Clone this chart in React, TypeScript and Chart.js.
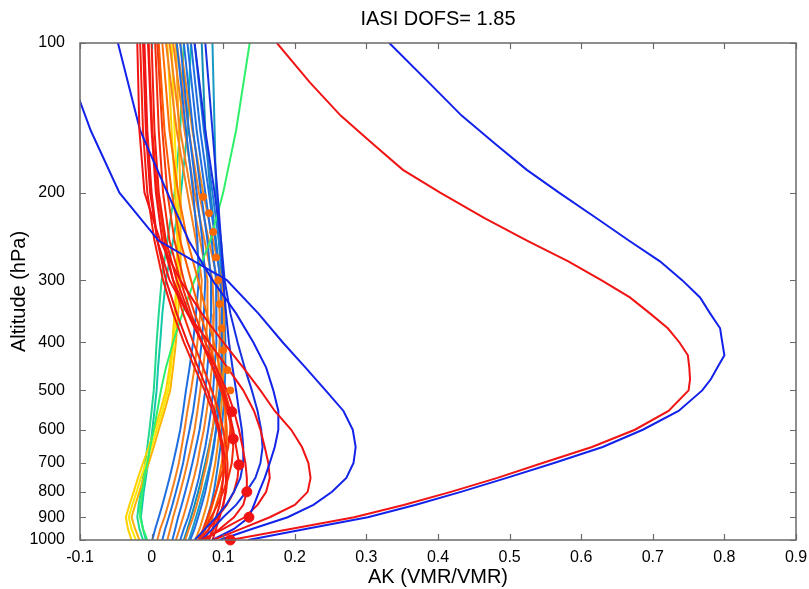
import React, { useEffect, useRef } from 'react';
import { Chart, registerables } from 'chart.js';

Chart.register(...registerables);

const TITLE = 'IASI DOFS= 1.85';
const X_LABEL = 'AK (VMR/VMR)';
const Y_LABEL = 'Altitude (hPa)';

const PRESSURE = [100, 150, 200, 250, 300, 350, 400, 450, 500, 550, 600, 650, 700, 750, 800, 850, 900, 950, 1000];
const PRESSURE_FINE = [100, 120, 140, 160, 180, 200, 225, 250, 275, 300, 325, 350, 375, 400, 425, 450, 475, 500, 550, 600, 650, 700, 750, 800, 850, 900, 950, 1000];
const X_TICKS = [-0.1, 0, 0.1, 0.2, 0.3, 0.4, 0.5, 0.6, 0.7, 0.8, 0.9];
const Y_TICKS = [100, 200, 300, 400, 500, 600, 700, 800, 900, 1000];

// two dominant kernels, one value per PRESSURE_FINE level
const AK_BIG_BLUE = [0.332, 0.387, 0.433, 0.481, 0.524, 0.569, 0.621, 0.667, 0.71, 0.741, 0.766, 0.78, 0.794, 0.797, 0.8, 0.79, 0.781, 0.769, 0.736, 0.686, 0.63, 0.562, 0.496, 0.432, 0.368, 0.302, 0.215, 0.135];
const AK_BIG_RED = [0.175, 0.221, 0.264, 0.31, 0.351, 0.403, 0.465, 0.525, 0.582, 0.628, 0.668, 0.696, 0.721, 0.737, 0.749, 0.751, 0.752, 0.75, 0.722, 0.675, 0.615, 0.546, 0.483, 0.418, 0.352, 0.283, 0.194, 0.11];

// other averaging-kernel rows, one value per PRESSURE level (100 -> 1000 hPa)
const AK_BLUE_1 = [-0.13, -0.085, -0.045, 0.01, 0.105, 0.149, 0.183, 0.215, 0.243, 0.268, 0.281, 0.285, 0.282, 0.272, 0.252, 0.226, 0.19, 0.14, 0.095];
const AK_BLUE_2 = [-0.047, -0.016, 0.022, 0.052, 0.085, 0.118, 0.142, 0.16, 0.17, 0.177, 0.177, 0.172, 0.165, 0.158, 0.15, 0.143, 0.136, 0.115, 0.085];
const AK_BLUE_3 = [0.06, 0.075, 0.088, 0.097, 0.102, 0.11, 0.12, 0.13, 0.14, 0.148, 0.153, 0.155, 0.152, 0.145, 0.132, 0.118, 0.1, 0.085, 0.07];
const AK_BLUE_4 = [0.075, 0.085, 0.092, 0.097, 0.1, 0.104, 0.108, 0.113, 0.118, 0.122, 0.126, 0.128, 0.128, 0.124, 0.115, 0.104, 0.09, 0.075, 0.06];
const AK_RED_2 = [-0.02, -0.017, -0.01, 0.012, 0.04, 0.07, 0.1, 0.128, 0.152, 0.172, 0.195, 0.21, 0.219, 0.222, 0.218, 0.2, 0.165, 0.125, 0.086];
const AK_RED_3 = [-0.01, -0.006, 0.0, 0.008, 0.025, 0.05, 0.08, 0.106, 0.128, 0.143, 0.152, 0.158, 0.163, 0.165, 0.16, 0.148, 0.13, 0.1, 0.07];
const AK_RED_4 = [-0.005, 0.0, 0.006, 0.015, 0.03, 0.05, 0.07, 0.09, 0.105, 0.115, 0.122, 0.127, 0.131, 0.133, 0.133, 0.128, 0.115, 0.095, 0.075];
const AK_RED_5 = [0.0, 0.004, 0.01, 0.02, 0.035, 0.052, 0.07, 0.086, 0.1, 0.108, 0.114, 0.118, 0.122, 0.12, 0.115, 0.105, 0.092, 0.08, 0.068];
const AK_RED_6 = [0.005, 0.01, 0.016, 0.025, 0.04, 0.055, 0.07, 0.085, 0.097, 0.106, 0.112, 0.114, 0.112, 0.107, 0.1, 0.092, 0.083, 0.075, 0.065];
const AK_RED_7 = [0.008, 0.015, 0.022, 0.032, 0.045, 0.06, 0.075, 0.09, 0.102, 0.11, 0.11, 0.107, 0.102, 0.096, 0.09, 0.084, 0.078, 0.072, 0.065];
const AK_RED_8 = [-0.012, -0.008, -0.002, 0.008, 0.02, 0.035, 0.05, 0.065, 0.078, 0.088, 0.095, 0.1, 0.103, 0.104, 0.103, 0.1, 0.095, 0.09, 0.085];
const AK_RED_9 = [-0.016, -0.012, -0.006, 0.004, 0.016, 0.03, 0.045, 0.06, 0.074, 0.085, 0.093, 0.098, 0.1, 0.1, 0.098, 0.095, 0.09, 0.085, 0.08];
const AK_RED_10 = [-0.004, 0.001, 0.008, 0.018, 0.03, 0.044, 0.058, 0.072, 0.084, 0.094, 0.1, 0.104, 0.106, 0.106, 0.104, 0.1, 0.094, 0.087, 0.08];
const AK_ORANGE_RED_1 = [0.01, 0.018, 0.028, 0.04, 0.055, 0.068, 0.08, 0.09, 0.098, 0.103, 0.105, 0.105, 0.103, 0.1, 0.096, 0.09, 0.085, 0.08, 0.075];
const AK_ORANGE_RED_2 = [0.015, 0.025, 0.037, 0.05, 0.065, 0.077, 0.087, 0.095, 0.1, 0.103, 0.103, 0.101, 0.098, 0.094, 0.09, 0.085, 0.08, 0.075, 0.07];
const AK_GREEN_LONE = [0.137, 0.118, 0.1, 0.082, 0.06, 0.043, 0.03, 0.02, 0.013, 0.008, 0.003, -0.002, -0.006, -0.01, -0.013, -0.015, -0.016, -0.012, -0.006];
const AK_MID_1 = [0.035, 0.048, 0.058, 0.064, 0.066, 0.062, 0.058, 0.053, 0.048, 0.044, 0.04, 0.035, 0.03, 0.025, 0.02, 0.015, 0.01, 0.005, 0.001];
const AK_MID_2 = [0.02, 0.035, 0.05, 0.062, 0.07, 0.068, 0.064, 0.06, 0.055, 0.05, 0.046, 0.042, 0.038, 0.033, 0.028, 0.023, 0.018, 0.012, 0.008];
const AK_MID_3 = [0.04, 0.052, 0.063, 0.071, 0.075, 0.073, 0.07, 0.066, 0.062, 0.058, 0.053, 0.048, 0.044, 0.039, 0.034, 0.029, 0.024, 0.019, 0.015];
const AK_MID_4 = [0.025, 0.04, 0.055, 0.068, 0.078, 0.078, 0.076, 0.072, 0.068, 0.064, 0.06, 0.055, 0.05, 0.045, 0.04, 0.035, 0.03, 0.026, 0.022];
const AK_MID_5 = [0.045, 0.058, 0.069, 0.078, 0.083, 0.083, 0.081, 0.078, 0.075, 0.071, 0.067, 0.062, 0.057, 0.052, 0.047, 0.042, 0.037, 0.033, 0.029];
const AK_MID_6 = [0.03, 0.046, 0.06, 0.074, 0.085, 0.087, 0.086, 0.084, 0.081, 0.077, 0.073, 0.068, 0.064, 0.059, 0.054, 0.049, 0.044, 0.039, 0.034];
const AK_MID_7 = [0.05, 0.063, 0.075, 0.084, 0.09, 0.091, 0.09, 0.088, 0.086, 0.083, 0.079, 0.075, 0.07, 0.066, 0.061, 0.056, 0.051, 0.045, 0.04];
const AK_MID_8 = [0.035, 0.052, 0.066, 0.08, 0.092, 0.095, 0.095, 0.093, 0.091, 0.088, 0.085, 0.081, 0.077, 0.072, 0.068, 0.063, 0.058, 0.052, 0.047];
const AK_MID_9 = [0.055, 0.068, 0.08, 0.089, 0.096, 0.098, 0.098, 0.097, 0.095, 0.093, 0.09, 0.087, 0.083, 0.079, 0.075, 0.07, 0.065, 0.06, 0.054];
const AK_MID_10 = [0.04, 0.057, 0.072, 0.086, 0.098, 0.101, 0.101, 0.1, 0.099, 0.097, 0.095, 0.092, 0.089, 0.085, 0.081, 0.077, 0.072, 0.067, 0.061];
const AK_MID_11 = [0.06, 0.073, 0.085, 0.094, 0.1, 0.102, 0.103, 0.103, 0.102, 0.1, 0.098, 0.096, 0.093, 0.09, 0.087, 0.083, 0.078, 0.073, 0.068];
const AK_TEAL_1 = [0.07, 0.075, 0.082, 0.09, 0.096, 0.1, 0.1, 0.098, 0.095, 0.09, 0.085, 0.08, 0.075, 0.07, 0.065, 0.06, 0.055, 0.05, 0.045];
const AK_TEAL_2 = [0.085, 0.088, 0.09, 0.094, 0.098, 0.1, 0.1, 0.099, 0.097, 0.094, 0.09, 0.086, 0.082, 0.077, 0.072, 0.067, 0.062, 0.057, 0.052];
const AK_YELLOW_1 = [0.022, 0.028, 0.033, 0.036, 0.035, 0.032, 0.029, 0.025, 0.02, 0.012, 0.004, -0.004, -0.012, -0.019, -0.025, -0.031, -0.036, -0.033, -0.028];
const AK_YELLOW_2 = [0.028, 0.032, 0.036, 0.038, 0.037, 0.034, 0.031, 0.027, 0.023, 0.015, 0.007, 0.0, -0.008, -0.015, -0.021, -0.027, -0.032, -0.028, -0.022];
const AK_YELLOW_3 = [0.034, 0.038, 0.04, 0.041, 0.04, 0.037, 0.034, 0.03, 0.026, 0.018, 0.01, 0.003, -0.004, -0.011, -0.017, -0.023, -0.028, -0.023, -0.017];
const AK_GREEN_1 = [0.045, 0.04, 0.032, 0.022, 0.014, 0.01, 0.007, 0.005, 0.003, 0.0, -0.003, -0.006, -0.009, -0.012, -0.015, -0.018, -0.02, -0.017, -0.012];
const AK_GREEN_2 = [0.055, 0.05, 0.041, 0.03, 0.02, 0.015, 0.012, 0.009, 0.007, 0.004, 0.001, -0.002, -0.005, -0.008, -0.011, -0.013, -0.015, -0.012, -0.008];

// diagonal markers
const DIAG_LOW_AK = [0.11, 0.136, 0.133, 0.122, 0.114, 0.112];
const DIAG_LOW_P = [1000, 900, 800, 706, 626, 552];
const DIAG_HIGH_AK = [0.11, 0.106, 0.1, 0.098, 0.095, 0.093, 0.09, 0.086, 0.08, 0.072];
const DIAG_HIGH_P = [500, 455, 415, 375, 335, 300, 270, 240, 220, 204];

// drawing order: first entry on top
const LINES: [number[], number[], string][] = [
  [AK_BIG_BLUE, PRESSURE_FINE, '#1222ea'],
  [AK_BIG_RED, PRESSURE_FINE, '#f01414'],
  [AK_BLUE_1, PRESSURE, '#1222ea'],
  [AK_RED_2, PRESSURE, '#f01414'],
  [AK_BLUE_2, PRESSURE, '#1222ea'],
  [AK_RED_3, PRESSURE, '#f01414'],
  [AK_BLUE_3, PRESSURE, '#1630e0'],
  [AK_RED_4, PRESSURE, '#f01414'],
  [AK_BLUE_4, PRESSURE, '#1630e0'],
  [AK_RED_5, PRESSURE, '#f21a10'],
  [AK_RED_6, PRESSURE, '#f42a0c'],
  [AK_RED_7, PRESSURE, '#f63a08'],
  [AK_RED_8, PRESSURE, '#f01414'],
  [AK_RED_9, PRESSURE, '#f41e10'],
  [AK_RED_10, PRESSURE, '#f8300a'],
  [AK_ORANGE_RED_1, PRESSURE, '#ff5a00'],
  [AK_ORANGE_RED_2, PRESSURE, '#ff7000'],
  [AK_GREEN_LONE, PRESSURE, '#2ef06a'],
  [AK_MID_1, PRESSURE, '#1f6ee0'],
  [AK_MID_2, PRESSURE, '#f5801e'],
  [AK_MID_3, PRESSURE, '#1f6ee0'],
  [AK_MID_4, PRESSURE, '#f5801e'],
  [AK_MID_5, PRESSURE, '#1f6ee0'],
  [AK_MID_6, PRESSURE, '#f5801e'],
  [AK_MID_7, PRESSURE, '#1f6ee0'],
  [AK_MID_8, PRESSURE, '#f5801e'],
  [AK_MID_9, PRESSURE, '#1f6ee0'],
  [AK_MID_10, PRESSURE, '#f98a10'],
  [AK_MID_11, PRESSURE, '#1f78d8'],
  [AK_TEAL_1, PRESSURE, '#118db5'],
  [AK_TEAL_2, PRESSURE, '#1899c4'],
  [AK_YELLOW_1, PRESSURE, '#ffd000'],
  [AK_YELLOW_2, PRESSURE, '#ffe800'],
  [AK_YELLOW_3, PRESSURE, '#ffb400'],
  [AK_GREEN_1, PRESSURE, '#20d890'],
  [AK_GREEN_2, PRESSURE, '#12c8a8'],
];

const FONT = "'Liberation Sans', Arial, sans-serif";

const frame = {
  id: 'frame',
  afterDraw(chart: any) {
    const { ctx, chartArea: a, scales } = chart;
    const x = scales.x;
    const y = scales.y;
    ctx.save();
    ctx.strokeStyle = '#6a6a6a';
    ctx.lineWidth = 1.5;
    ctx.strokeRect(a.left, a.top, a.right - a.left, a.bottom - a.top);
    ctx.lineWidth = 1.2;
    ctx.beginPath();
    const len = 6;
    X_TICKS.forEach((v) => {
      const px = Math.round(x.getPixelForValue(v)) + 0.5;
      ctx.moveTo(px, a.bottom);
      ctx.lineTo(px, a.bottom - len);
      ctx.moveTo(px, a.top);
      ctx.lineTo(px, a.top + len);
    });
    Y_TICKS.forEach((v) => {
      const py = Math.round(y.getPixelForValue(v)) + 0.5;
      ctx.moveTo(a.left, py);
      ctx.lineTo(a.left + len, py);
      ctx.moveTo(a.right, py);
      ctx.lineTo(a.right - len, py);
    });
    ctx.stroke();
    ctx.fillStyle = '#000';
    ctx.font = `20px ${FONT}`;
    ctx.textAlign = 'center';
    ctx.textBaseline = 'middle';
    ctx.fillText(TITLE, (a.left + a.right) / 2, 19);
    ctx.restore();
  },
};

export default function App() {
  const ref = useRef<HTMLCanvasElement | null>(null);

  useEffect(() => {
    if (!ref.current) return;
    const lineSets = LINES.map(([vals, pres, color]) => ({
      type: 'scatter' as const,
      data: vals.map((v, i) => ({ x: v, y: pres[i] })),
      showLine: true,
      borderColor: color,
      backgroundColor: color,
      borderWidth: 2,
      pointRadius: 0,
      tension: 0,
    }));
    const dotsLow = {
      type: 'scatter' as const,
      data: DIAG_LOW_AK.map((v, i) => ({ x: v, y: DIAG_LOW_P[i] })),
      showLine: false,
      pointRadius: 5,
      pointBackgroundColor: '#f01414',
      pointBorderColor: '#f01414',
      clip: false as any,
    };
    const dotsHigh = {
      type: 'scatter' as const,
      data: DIAG_HIGH_AK.map((v, i) => ({ x: v, y: DIAG_HIGH_P[i] })),
      showLine: false,
      pointRadius: 3.5,
      pointBackgroundColor: '#ff6a00',
      pointBorderColor: '#ff6a00',
    };
    const chart = new Chart(ref.current, {
      type: 'scatter',
      data: { datasets: [dotsLow, dotsHigh, ...lineSets] as any },
      options: {
        animation: false,
        responsive: false,
        devicePixelRatio: 1,
        layout: { padding: { left: 0, right: 13, top: 43, bottom: 0 } },
        plugins: { legend: { display: false }, tooltip: { enabled: false }, title: { display: false } },
        scales: {
          x: {
            type: 'linear',
            min: -0.1,
            max: 0.9,
            afterBuildTicks: (s: any) => {
              s.ticks = X_TICKS.map((v) => ({ value: v }));
            },
            afterFit: (s: any) => {
              s.height = 49;
            },
            grid: { display: false },
            border: { display: false },
            ticks: {
              color: '#000',
              padding: 0,
              font: { family: FONT, size: 16 },
              callback: (v: any) => String(Number(Number(v).toFixed(1))),
            },
            title: {
              display: true,
              text: X_LABEL,
              color: '#000',
              font: { family: FONT, size: 20 },
              padding: { top: 0, bottom: 0 },
            },
          },
          y: {
            type: 'logarithmic',
            reverse: true,
            min: 100,
            max: 1000,
            afterBuildTicks: (s: any) => {
              s.ticks = Y_TICKS.map((v) => ({ value: v }));
            },
            afterFit: (s: any) => {
              s.width = 80;
            },
            grid: { display: false },
            border: { display: false },
            ticks: {
              color: '#000',
              padding: 7,
              font: { family: FONT, size: 16 },
              callback: (v: any) => String(v),
            },
            title: {
              display: true,
              text: Y_LABEL,
              color: '#000',
              font: { family: FONT, size: 20 },
              padding: { top: 7, bottom: 0 },
            },
          },
        },
      },
      plugins: [frame],
    });
    return () => chart.destroy();
  }, []);

  return (
    <div style={{ position: 'fixed', left: 0, top: 0, width: 809, height: 589, background: '#fff' }}>
      <canvas ref={ref} width={809} height={589} style={{ width: 809, height: 589 }} />
    </div>
  );
}
